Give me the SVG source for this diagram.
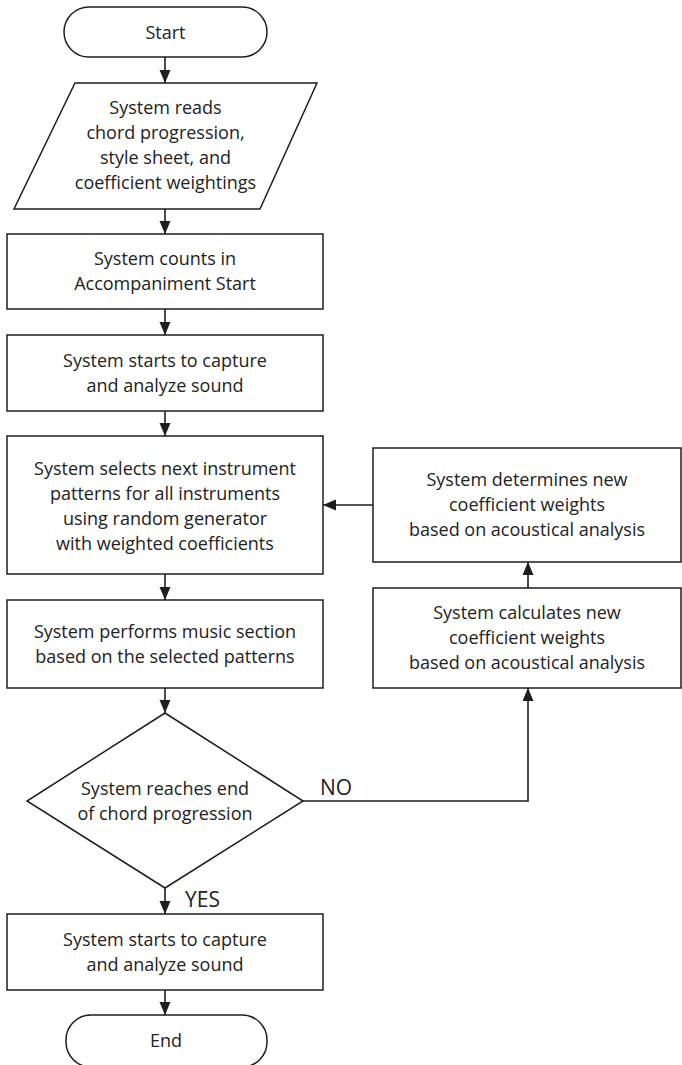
<svg xmlns="http://www.w3.org/2000/svg" width="682" height="1065" viewBox="0 0 682 1065">
  <defs>
    <marker id="arrow" markerUnits="userSpaceOnUse" markerWidth="13" markerHeight="12" refX="13" refY="5.5" orient="auto">
      <path d="M0,0 L13,5.5 L0,11 Z" fill="#1e1e1e"/>
    </marker>
    <style>
      .shape { fill: #ffffff; stroke: #1e1e1e; stroke-width: 1.5; }
      .conn { fill: none; stroke: #1e1e1e; stroke-width: 1.6; }
      .lbl { font-family: "Open Sans", "Liberation Sans", sans-serif; font-size: 18px; fill: #222222; text-anchor: middle; }
      .tag { font-family: "Open Sans", "Liberation Sans", sans-serif; font-size: 21px; fill: #222222; }
    </style>
  </defs>
  <rect width="682" height="1065" fill="#ffffff"/>

  <!-- connectors -->
  <g id="connectors">
    <line class="conn" x1="165" y1="57" x2="165" y2="83" marker-end="url(#arrow)"/>
    <line class="conn" x1="165" y1="209" x2="165" y2="234" marker-end="url(#arrow)"/>
    <line class="conn" x1="165" y1="309" x2="165" y2="335" marker-end="url(#arrow)"/>
    <line class="conn" x1="165" y1="411" x2="165" y2="436" marker-end="url(#arrow)"/>
    <line class="conn" x1="165" y1="574" x2="165" y2="600" marker-end="url(#arrow)"/>
    <line class="conn" x1="165" y1="688" x2="165" y2="713" marker-end="url(#arrow)"/>
    <line class="conn" x1="165" y1="888" x2="165" y2="914" marker-end="url(#arrow)"/>
    <line class="conn" x1="165" y1="990" x2="165" y2="1015" marker-end="url(#arrow)"/>
    <line class="conn" x1="373" y1="505" x2="323" y2="505" marker-end="url(#arrow)"/>
    <line class="conn" x1="528" y1="588" x2="528" y2="562" marker-end="url(#arrow)"/>
    <polyline class="conn" points="303,801 528,801 528,688" marker-end="url(#arrow)"/>
    <text class="tag" x="320" y="795">NO</text>
    <text class="tag" x="185" y="907">YES</text>
  </g>

  <g id="start">
    <rect class="shape" x="64" y="7" width="203" height="50" rx="25" ry="25"/>
    <text class="lbl" x="165.5" y="39">Start</text>
  </g>

  <g id="read-input">
    <polygon class="shape" points="75,83 317,83 260,209 14,209"/>
    <text class="lbl" x="165.5" y="114">System reads</text>
    <text class="lbl" x="165.5" y="139">chord progression,</text>
    <text class="lbl" x="165.5" y="164">style sheet, and</text>
    <text class="lbl" x="165.5" y="189">coefficient weightings</text>
  </g>

  <g id="count-in">
    <rect class="shape" x="7" y="234" width="316" height="75"/>
    <text class="lbl" x="165" y="265">System counts in</text>
    <text class="lbl" x="165" y="290">Accompaniment Start</text>
  </g>

  <g id="capture-1">
    <rect class="shape" x="7" y="335" width="316" height="76"/>
    <text class="lbl" x="165" y="367">System starts to capture</text>
    <text class="lbl" x="165" y="392">and analyze sound</text>
  </g>

  <g id="select-patterns">
    <rect class="shape" x="7" y="436" width="316" height="138"/>
    <text class="lbl" x="165" y="475">System selects next instrument</text>
    <text class="lbl" x="165" y="500">patterns for all instruments</text>
    <text class="lbl" x="165" y="525">using random generator</text>
    <text class="lbl" x="165" y="550">with weighted coefficients</text>
  </g>

  <g id="perform">
    <rect class="shape" x="7" y="600" width="316" height="88"/>
    <text class="lbl" x="165" y="638">System performs music section</text>
    <text class="lbl" x="165" y="663">based on the selected patterns</text>
  </g>

  <g id="end-check">
    <polygon class="shape" points="165,713 303,801 165,888 27,801"/>
    <text class="lbl" x="165" y="795">System reaches end</text>
    <text class="lbl" x="165" y="820">of chord progression</text>
  </g>

  <g id="capture-2">
    <rect class="shape" x="7" y="914" width="316" height="76"/>
    <text class="lbl" x="165" y="946">System starts to capture</text>
    <text class="lbl" x="165" y="971">and analyze sound</text>
  </g>

  <g id="end">
    <rect class="shape" x="66" y="1015" width="201" height="52" rx="25" ry="25"/>
    <text class="lbl" x="166" y="1047">End</text>
  </g>

  <g id="determine-weights">
    <rect class="shape" x="373" y="448" width="308" height="114"/>
    <text class="lbl" x="527" y="486">System determines new</text>
    <text class="lbl" x="527" y="511">coefficient weights</text>
    <text class="lbl" x="527" y="536">based on acoustical analysis</text>
  </g>

  <g id="calculate-weights">
    <rect class="shape" x="373" y="588" width="308" height="100"/>
    <text class="lbl" x="527" y="619">System calculates new</text>
    <text class="lbl" x="527" y="644">coefficient weights</text>
    <text class="lbl" x="527" y="669">based on acoustical analysis</text>
  </g>
</svg>
